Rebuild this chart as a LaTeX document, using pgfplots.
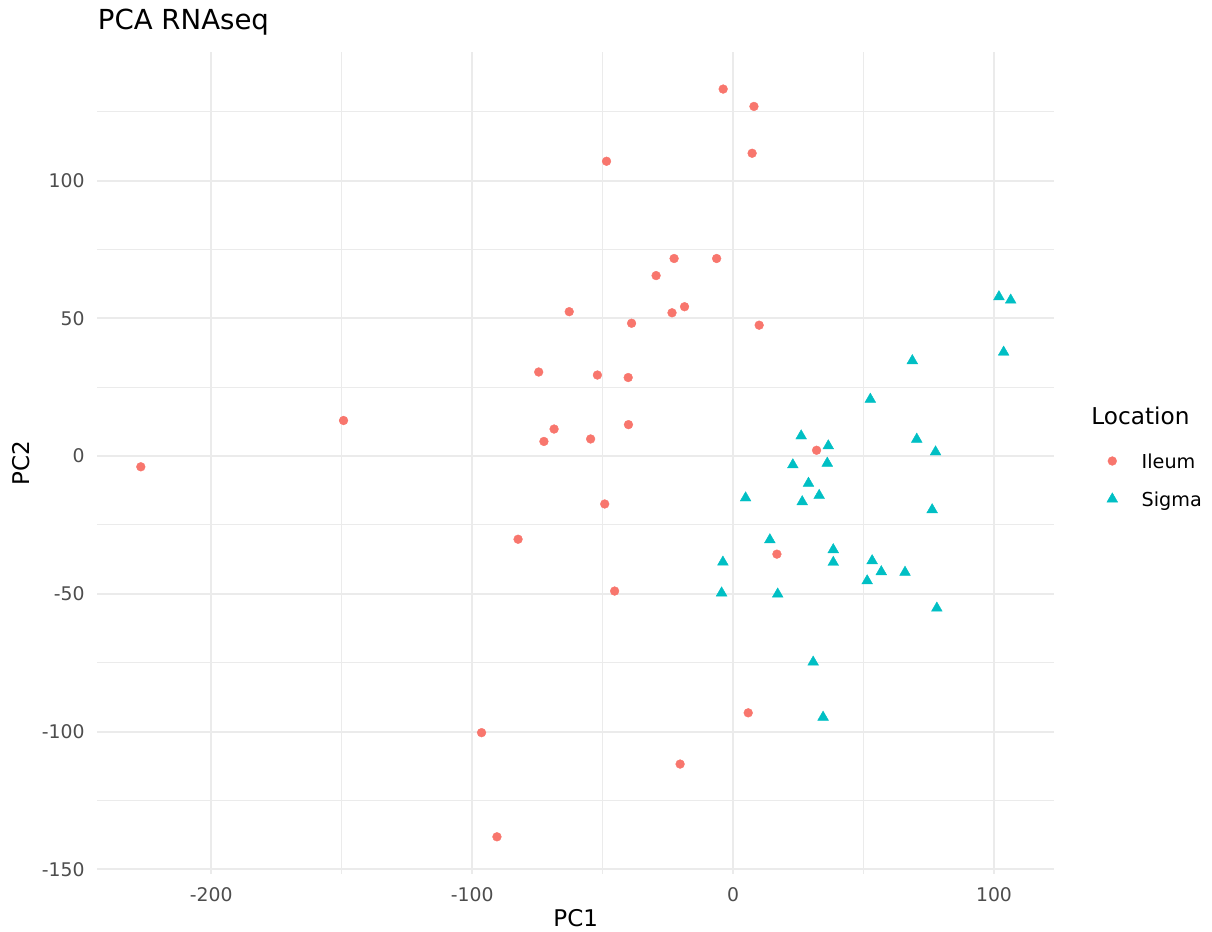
\documentclass[border=0pt]{standalone}
\usepackage{fontspec}
\setmainfont{DejaVu Sans}
\usepackage{pgfplots}
\pgfplotsset{compat=1.18}

\definecolor{ileum}{HTML}{F8766D}
\definecolor{sigma}{HTML}{00BFC4}
\definecolor{gridgrey}{HTML}{EBEBEB}
\definecolor{ticktext}{HTML}{4D4D4D}

\begin{document}
\begin{tikzpicture}
\begin{axis}[
  at={(0pt,0pt)}, anchor=south west,
  scale only axis,
  width=478.25pt, height=411.2pt,
  xmin=-243.6, xmax=123.0,
  ymin=-151.7, ymax=146.8,
  axis line style={draw=none},
  tick style={draw=none},
  major tick length=0pt, minor tick length=0pt,
  xtick={-200,-100,0,100},
  xticklabels={-200,-100,0,100},
  ytick={-150,-100,-50,0,50,100},
  yticklabels={-150,-100,-50,0,50,100},
  minor xtick={-150,-50,50},
  minor ytick={-125,-75,-25,25,75,125},
  grid=both,
  major grid style={draw=gridgrey, line width=1pt},
  minor grid style={draw=gridgrey, line width=0.5pt},
  xticklabel style={inner sep=0pt, anchor=north, yshift=-6.35pt,
    font=\fontsize{9.4pt}{11pt}\selectfont, text=ticktext},
  yticklabel style={inner sep=0pt, anchor=east, xshift=-6.25pt,
    font=\fontsize{9.4pt}{11pt}\selectfont, text=ticktext},
  xlabel={PC1},
  ylabel={PC2},
  xlabel style={at={(axis description cs:0.5,-0.0641)}, anchor=base,
    inner sep=0pt, font=\fontsize{11.5pt}{13pt}\selectfont},
  ylabel style={at={(axis description cs:-0.0716,0.5)}, anchor=base,
    rotate=0, inner sep=0pt, font=\fontsize{11.5pt}{13pt}\selectfont},
  title={PCA RNAseq},
  every axis title shift=0pt,
  title style={at={(axis description cs:0,1)}, anchor=base west,
    yshift=11.15pt, inner sep=0pt, font=\fontsize{13.8pt}{16pt}\selectfont},
  legend cell align=left,
  legend image code/.code={%
    \draw[#1] plot coordinates {(0pt,0pt)};
    \path[draw=none, fill=none] (-6pt,-4pt) rectangle (6pt,4pt);},
  legend style={at={(1.0484,0.5119)}, anchor=north west,
    draw=none, fill=none, inner sep=0pt, outer sep=0pt,
    row sep=11pt,
    nodes={inner sep=0pt, text height=7.5pt, text depth=0pt,
      font=\fontsize{9.6pt}{11pt}\selectfont},
    /tikz/every odd column/.append style={column sep=8.7pt}},
  clip=false,
]
% Ileum samples
\addplot[only marks, mark=*, mark size=2.2pt,
  mark options={fill=ileum, draw=ileum, line width=0.2pt}]
coordinates {
  (-227.0,-3.9) (-149.3,12.9) (-3.8,133.2) (8.0,126.9) (7.3,109.9)
  (-48.5,107.0) (-22.6,71.7) (-6.3,71.7) (-29.5,65.5) (-18.6,54.2)
  (-62.8,52.4) (-23.4,52.0) (-38.9,48.2) (10.0,47.5) (-74.5,30.5)
  (-52.0,29.4) (-40.2,28.5) (-40.1,11.4) (-68.6,9.8) (-72.5,5.3)
  (-54.6,6.2) (32.0,2.1) (-49.2,-17.4) (-82.4,-30.2) (16.8,-35.6)
  (-45.4,-49.0) (5.8,-93.2) (-96.4,-100.4) (-20.3,-111.8) (-90.5,-138.2)
};
\addlegendentry{Ileum}
% Sigma samples
\addplot[only marks, mark=triangle*, mark size=3.1pt,
  mark options={fill=sigma, draw=sigma, line width=0.2pt}]
coordinates {
  (101.9,57.8) (106.4,56.6) (103.7,37.7) (68.7,34.6) (52.6,20.6)
  (26.1,7.3) (36.5,3.7) (70.4,6.1) (77.6,1.5) (22.9,-3.2)
  (36.1,-2.6) (28.9,-9.9) (33.0,-14.3) (4.8,-15.2) (26.5,-16.6)
  (76.3,-19.5) (14.1,-30.4) (38.4,-34.0) (-3.9,-38.5) (38.4,-38.6)
  (53.3,-38.0) (56.8,-42.0) (65.9,-42.2) (51.4,-45.3) (-4.4,-49.7)
  (17.1,-50.1) (78.1,-55.2) (30.7,-74.8) (34.5,-94.8)
};
\addlegendentry{Sigma}
% legend heading
\node[anchor=base west, inner sep=0pt, font=\fontsize{11.6pt}{13pt}\selectfont]
  at (rel axis cs:1.0387,0.5460) {Location};
\end{axis}
\pgfresetboundingbox
\path[use as bounding box] (-48.75pt,-29pt) rectangle (557.25pt,437pt);
\end{tikzpicture}
\end{document}
